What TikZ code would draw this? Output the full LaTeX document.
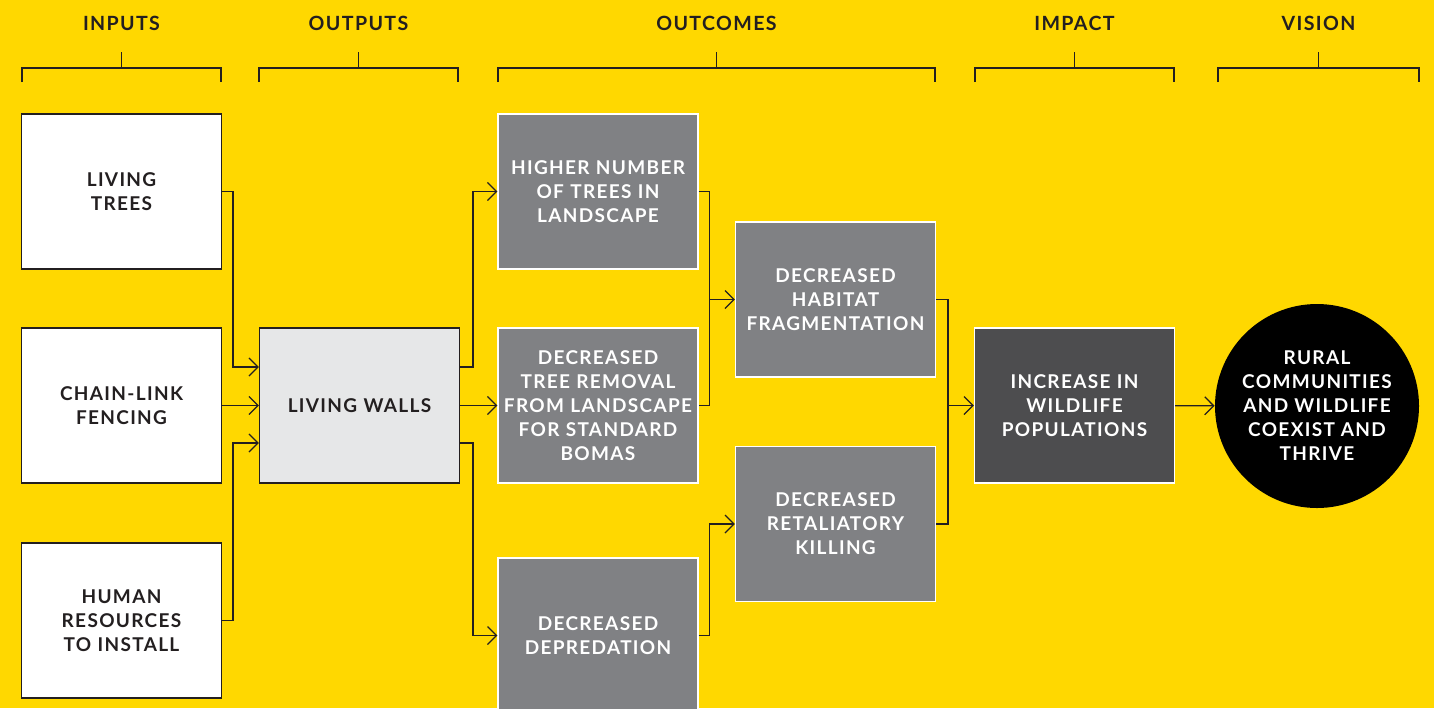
\documentclass[tikz,border=0pt]{standalone}
\usepackage{fontspec}
\setmainfont{Lato}[LetterSpace=7]
\usetikzlibrary{arrows.meta,calc}
\definecolor{bg}{HTML}{FFD800}
\definecolor{ink}{HTML}{231F20}
\definecolor{pale}{HTML}{E6E7E8}
\definecolor{mid}{HTML}{808184}
\definecolor{dark}{HTML}{4D4D4F}
\begin{document}
\begin{tikzpicture}
[x=0.5pt,y=-0.5pt,
every node/.style={font=\bfseries\fontsize{9.5}{12}\selectfont,align=center,inner sep=0pt},
box/.style={minimum width=100pt,minimum height=77.5pt,text width=96pt,line width=0.6pt},
inbox/.style={box,draw=ink,fill=white,text=ink},
outbox/.style={box,draw=ink,fill=pale,text=ink},
midbox/.style={box,draw=white,fill=mid,text=white},
darkbox/.style={box,draw=white,fill=dark,text=white},
goal/.style={circle,fill=black,minimum size=102pt,text=white},
head/.style={font=\bfseries\fontsize{9.8}{12}\selectfont,text=ink},
arr/.style={line width=0.65pt,draw=ink,-{Straight Barb[length=4.5pt,width=9pt]}},
link/.style={line width=0.65pt,draw=ink}
]
\useasboundingbox (0,0) rectangle (1434,708);
\clip (0,0) rectangle (1434,708);
\fill[bg] (0,0) rectangle (1434,708);
\foreach \l/\r/\t in {22/221/INPUTS,259/458/OUTPUTS,498/935/OUTCOMES,975/1174/IMPACT,1218/1419/VISION}
{\node[head] (h\t) at (\l/2+\r/2,23) {\t};
\draw[link] (\l,82) -- (\l,68) -- (\r,68) -- (\r,82) (\l/2+\r/2,68) -- (\l/2+\r/2,52);}
\node[inbox] (trees) at (121.5,191.5) {LIVING\\TREES};
\node[inbox] (fence) at (121.5,405.5) {CHAIN-LINK\\FENCING};
\node[inbox] (staff) at (121.5,620.5) {HUMAN\\RESOURCES\\TO INSTALL};
\node[outbox] (walls) at (359.5,405.5) {LIVING WALLS};
\node[midbox] (more) at (598,191.5) {HIGHER NUMBER\\OF TREES IN\\LANDSCAPE};
\node[midbox] (removal) at (598,405.5) {DECREASED\\TREE REMOVAL\\FROM LANDSCAPE\\FOR STANDARD\\BOMAS};
\node[midbox] (depred) at (598,635.5) {DECREASED\\DEPREDATION};
\node[midbox] (habitat) at (835.5,299.5) {DECREASED\\HABITAT\\FRAGMENTATION};
\node[midbox] (retal) at (835.5,524) {DECREASED\\RETALIATORY\\KILLING};
\node[darkbox] (wildlife) at (1074.5,405.5) {INCREASE IN\\WILDLIFE\\POPULATIONS};
\node[goal] (vision) at (1317,406) {RURAL\\COMMUNITIES\\AND WILDLIFE\\COEXIST AND\\THRIVE};
\draw[arr] (trees.east) -- ++(11,0) |- ($(walls.west)+(0,-38.5)$);
\draw[arr] (fence) -- (walls);
\draw[arr] (staff.east) -- ++(11,0) |- ($(walls.west)+(0,37.5)$);
\draw[arr] ($(walls.east)+(0,-38.5)$) -- ++(13,0) |- (more.west);
\draw[arr] (walls) -- (removal);
\draw[arr] ($(walls.east)+(0,37.5)$) -- ++(13,0) |- (depred.west);
\draw[link] (more.east) -- ++(11,0) coordinate (j1) |- (removal.east);
\draw[arr] (j1 |- habitat.west) -- (habitat.west);
\draw[arr] (depred.east) -- ++(11,0) |- (retal.west);
\draw[link] (habitat.east) -- ++(12,0) coordinate (j2) |- (retal.east);
\draw[arr] (j2 |- wildlife.west) -- (wildlife.west);
\draw[arr] (wildlife) -- (vision);
\end{tikzpicture}
\end{document}
